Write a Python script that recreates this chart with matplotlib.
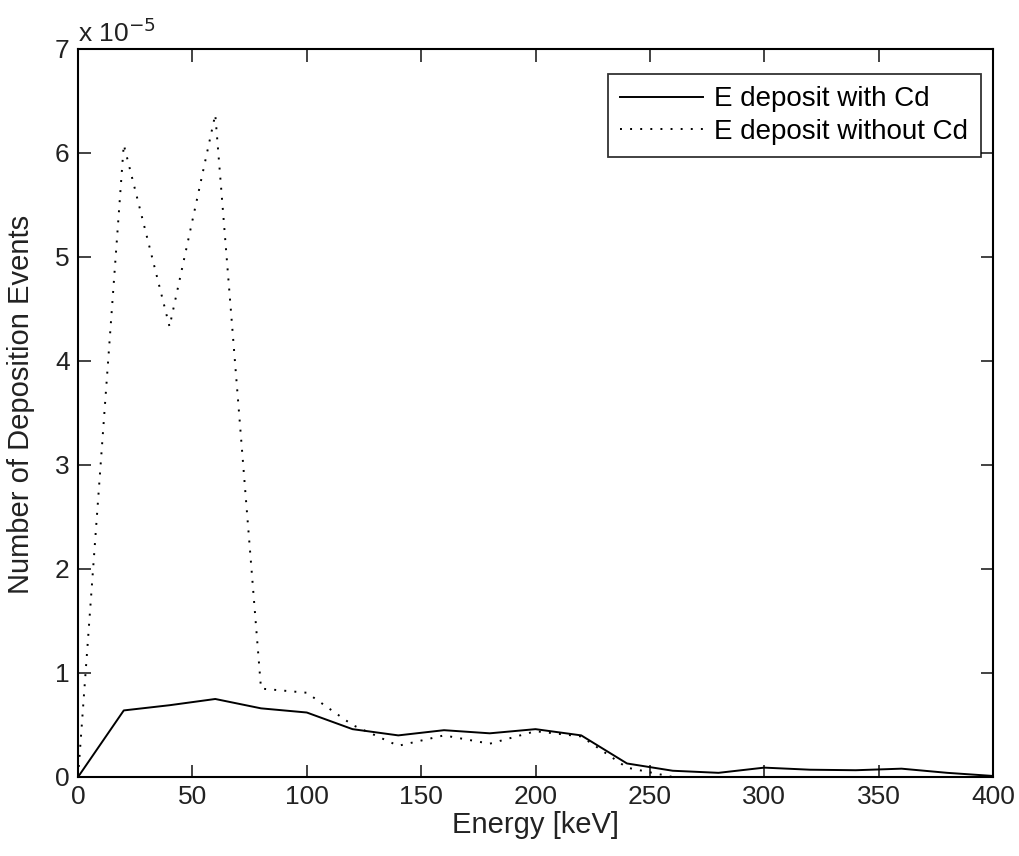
import matplotlib.pyplot as plt
import matplotlib
import numpy as np
from matplotlib.ticker import FuncFormatter
matplotlib.rcParams['font.family'] = ['Liberation Sans', 'DejaVu Sans']

# data (energy bins every 20 keV)
energy = [0, 20, 40, 60, 80, 100, 120, 140, 160, 180, 200,
          220, 240, 260, 280, 300, 320, 340, 360, 380, 400]
with_cd = [0.0, 0.64, 0.69, 0.75, 0.66, 0.62, 0.46, 0.40, 0.45, 0.42, 0.46,
           0.40, 0.13, 0.06, 0.04, 0.09, 0.07, 0.065, 0.08, 0.04, 0.01]
without_cd = [0.0, 6.08, 4.33, 6.37, 0.85, 0.81, 0.50, 0.30, 0.40, 0.32, 0.44,
              0.39, 0.09, 0.0, 0.0, 0.0, 0.0, 0.0, 0.0, 0.0, 0.0]
scale = 1e-5

fig = plt.figure(figsize=(10.2, 8.56), dpi=100)
ax = fig.add_axes([0.0765, 0.0923, 0.897, 0.8505])

ax.plot(energy, np.array(with_cd) * scale, color='black', linewidth=1.4,
        label='E deposit with Cd')
ax.plot(energy, np.array(without_cd) * scale, color='black', linewidth=1.4,
        linestyle=(0, (1, 4.2)), label='E deposit without Cd')

ax.set_xlim(0, 400)
ax.set_ylim(0, 7e-5)
ax.set_xticks(np.arange(0, 401, 50))
ax.set_yticks(np.arange(0, 8) * scale)
ax.yaxis.set_major_formatter(FuncFormatter(lambda v, p: '%d' % round(v / scale)))

fs = 19
ax.tick_params(direction='in', length=9, width=1.2, top=True, right=True,
               labelsize=fs, colors='#222222', pad=6)
for s in ax.spines.values():
    s.set_linewidth(1.5)

ax.set_xlabel('Energy [keV]', fontsize=21, color='#222222', labelpad=1)
ax.set_ylabel('Number of Deposition Events', fontsize=21, color='#222222')
ax.yaxis.set_label_coords(-0.047, 0.512)
ax.text(0.0, 1.003, r'x 10$^{-5}$', transform=ax.transAxes, fontsize=fs,
        color='#222222', ha='left', va='bottom')

leg = ax.legend(loc='upper right', bbox_to_anchor=(0.9869, 0.9657),
                borderaxespad=0, fontsize=20, handlelength=3.0, frameon=True,
                fancybox=False, borderpad=0.45, labelspacing=0.22,
                handletextpad=0.4)
leg.get_frame().set_edgecolor('black')
leg.get_frame().set_linewidth(1.3)

plt.savefig('out.png', dpi=100)
